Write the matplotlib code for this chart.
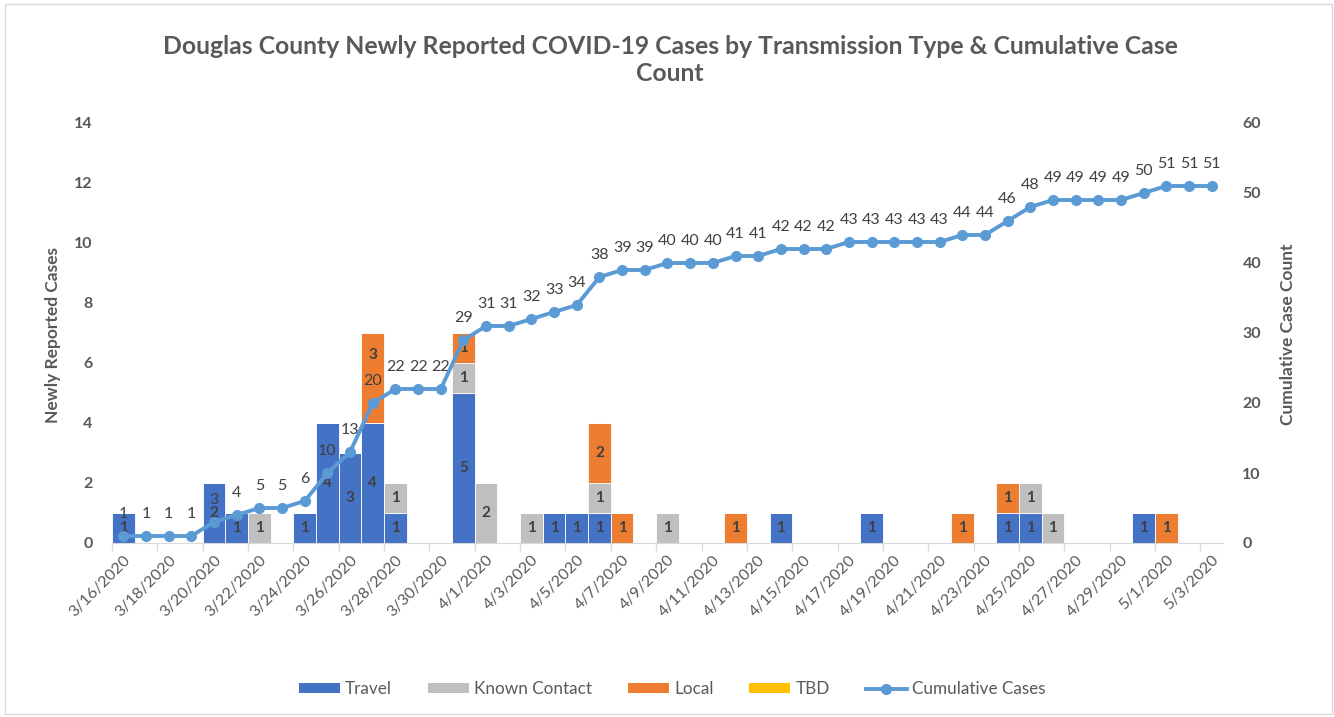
import matplotlib
matplotlib.use("Agg")
import matplotlib.pyplot as plt
import numpy as np
import pandas as pd
from matplotlib.lines import Line2D
from matplotlib.patches import Patch, Rectangle

# ---------------- data ----------------
dates = [f"{d.month}/{d.day}/{d.year}" for d in pd.date_range("2020-03-16", "2020-05-03")]
travel = [1,0,0,0,2,1,0,0,1,4,3,4,1,0,0,5,0,0,0,1,1,1,0,0,0,0,0,0,0,1,0,0,0,1,0,0,0,0,0,1,1,0,0,0,0,1,0,0,0]
known  = [0,0,0,0,0,0,1,0,0,0,0,0,1,0,0,1,2,0,1,0,0,1,0,0,1,0,0,0,0,0,0,0,0,0,0,0,0,0,0,0,1,1,0,0,0,0,0,0,0]
local  = [0,0,0,0,0,0,0,0,0,0,0,3,0,0,0,1,0,0,0,0,0,2,1,0,0,0,0,1,0,0,0,0,0,0,0,0,0,1,0,1,0,0,0,0,0,0,1,0,0]
tbd    = [0]*49
cumulative = [1,1,1,1,3,4,5,5,6,10,13,20,22,22,22,29,31,31,32,33,34,38,39,39,40,40,40,41,41,42,42,42,
              43,43,43,43,43,44,44,46,48,49,49,49,49,50,51,51,51]

series_names = ["Travel", "Known Contact", "Local", "TBD"]
series_vals = [travel, known, local, tbd]
colors = ["#4472C4", "#BFBFBF", "#ED7D31", "#FFC000"]
line_color = "#5B9BD5"
txt = "#404040"
axis_txt = "#595959"

plt.rcParams['font.family'] = ['Lato', 'DejaVu Sans']

W, H = 1334, 717
fig = plt.figure(figsize=(W/100, H/100), dpi=100)
fig.patches.append(Rectangle((5/W, 3/H), 1327/W, 710/H, transform=fig.transFigure,
                             fill=False, edgecolor="#D9D9D9", linewidth=1))

left, right, bottom, top = 112, 1223, 543, 123
ax = fig.add_axes([left/W, 1-bottom/H, (right-left)/W, (bottom-top)/H])
ax2 = ax.twinx()

YMAX_L, YMAX_R = 14, 60
px_per_unit = (bottom - top) / YMAX_L
label_off_pt = 16
label_off_units = label_off_pt * 100 / 72 / px_per_unit

x = np.arange(len(dates))
base = np.zeros(len(dates))
for name, vals, c in zip(series_names, series_vals, colors):
    v = np.array(vals, dtype=float)
    ax.bar(x, v, width=1.0, bottom=base, color=c, edgecolor="white", linewidth=0.6, label=name)
    for xi, vi, bi in zip(x, v, base):
        if vi > 0:
            yc = bi + vi/2
            cum_lab = cumulative[xi] * YMAX_L / YMAX_R + label_off_units
            if abs(yc - cum_lab) < 0.3:
                yc = cum_lab + 0.85
            ax.text(xi, yc, f"{int(vi)}", ha="center", va="center",
                    fontsize=11, fontweight="bold", color=txt)
    base = base + v

ax2.plot(x, cumulative, color=line_color, linewidth=2.8, marker="o", markersize=7, zorder=5)
for xi, ci in zip(x, cumulative):
    ax2.annotate(f"{ci}", (xi, ci), xytext=(0, label_off_pt), textcoords="offset points",
                 ha="center", va="center", fontsize=11.5, color=txt)

ax.set_xlim(-0.5, len(dates)-0.5)
ax.set_ylim(0, YMAX_L)
ax2.set_ylim(0, YMAX_R)
ax.set_yticks(range(0, YMAX_L + 1, 2))
ax2.set_yticks(range(0, YMAX_R + 1, 10))

for a in (ax, ax2):
    for s in ("top", "left", "right"):
        a.spines[s].set_visible(False)
    a.spines["bottom"].set_color("#D9D9D9")
ax2.spines["bottom"].set_visible(False)

ax.set_xticks(x[::2])
ax.set_xticklabels(dates[::2], rotation=45, ha="right", rotation_mode="anchor",
                   fontsize=11.5, color=axis_txt)
ax.set_xticks(np.arange(-0.5, len(dates)-1, 2), minor=True)
ax.tick_params(axis="x", which="major", length=0, pad=7)
ax.tick_params(axis="x", which="minor", length=6, color="#D9D9D9", width=1)

ax.tick_params(axis="y", length=0, pad=14, labelsize=11.5, labelcolor=axis_txt)
ax2.tick_params(axis="y", length=0, pad=14, labelsize=11.5, labelcolor=axis_txt)
for lab in ax.get_yticklabels() + ax2.get_yticklabels():
    lab.set_fontweight("bold")

fig.text(53/W, 1-335/H, "Newly Reported Cases", rotation=90, ha="center", va="center",
         fontsize=12.5, fontweight="bold", color=axis_txt)
fig.text(1288/W, 1-334/H, "Cumulative Case Count", rotation=90, ha="center", va="center",
         fontsize=12.5, fontweight="bold", color=axis_txt)

fig.text(670/W, 1-60/H,
         "Douglas County Newly Reported COVID-19 Cases by Transmission Type & Cumulative Case\nCount",
         ha="center", va="center", fontsize=17.8, fontweight="bold", color=axis_txt, linespacing=1.25)

handles = [Patch(facecolor=c, edgecolor="none") for c in colors]
handles.append(Line2D([0], [0], color=line_color, linewidth=2.8, marker="o", markersize=7))
fig.legend(handles, series_names + ["Cumulative Cases"], loc="center", bbox_to_anchor=(672/W, 1-689/H),
           ncol=5, frameon=False, fontsize=12.3, handlelength=2.4, handleheight=0.5,
           handletextpad=0.3, columnspacing=2.1, labelcolor=axis_txt)

fig.savefig("out.png", dpi=100)
